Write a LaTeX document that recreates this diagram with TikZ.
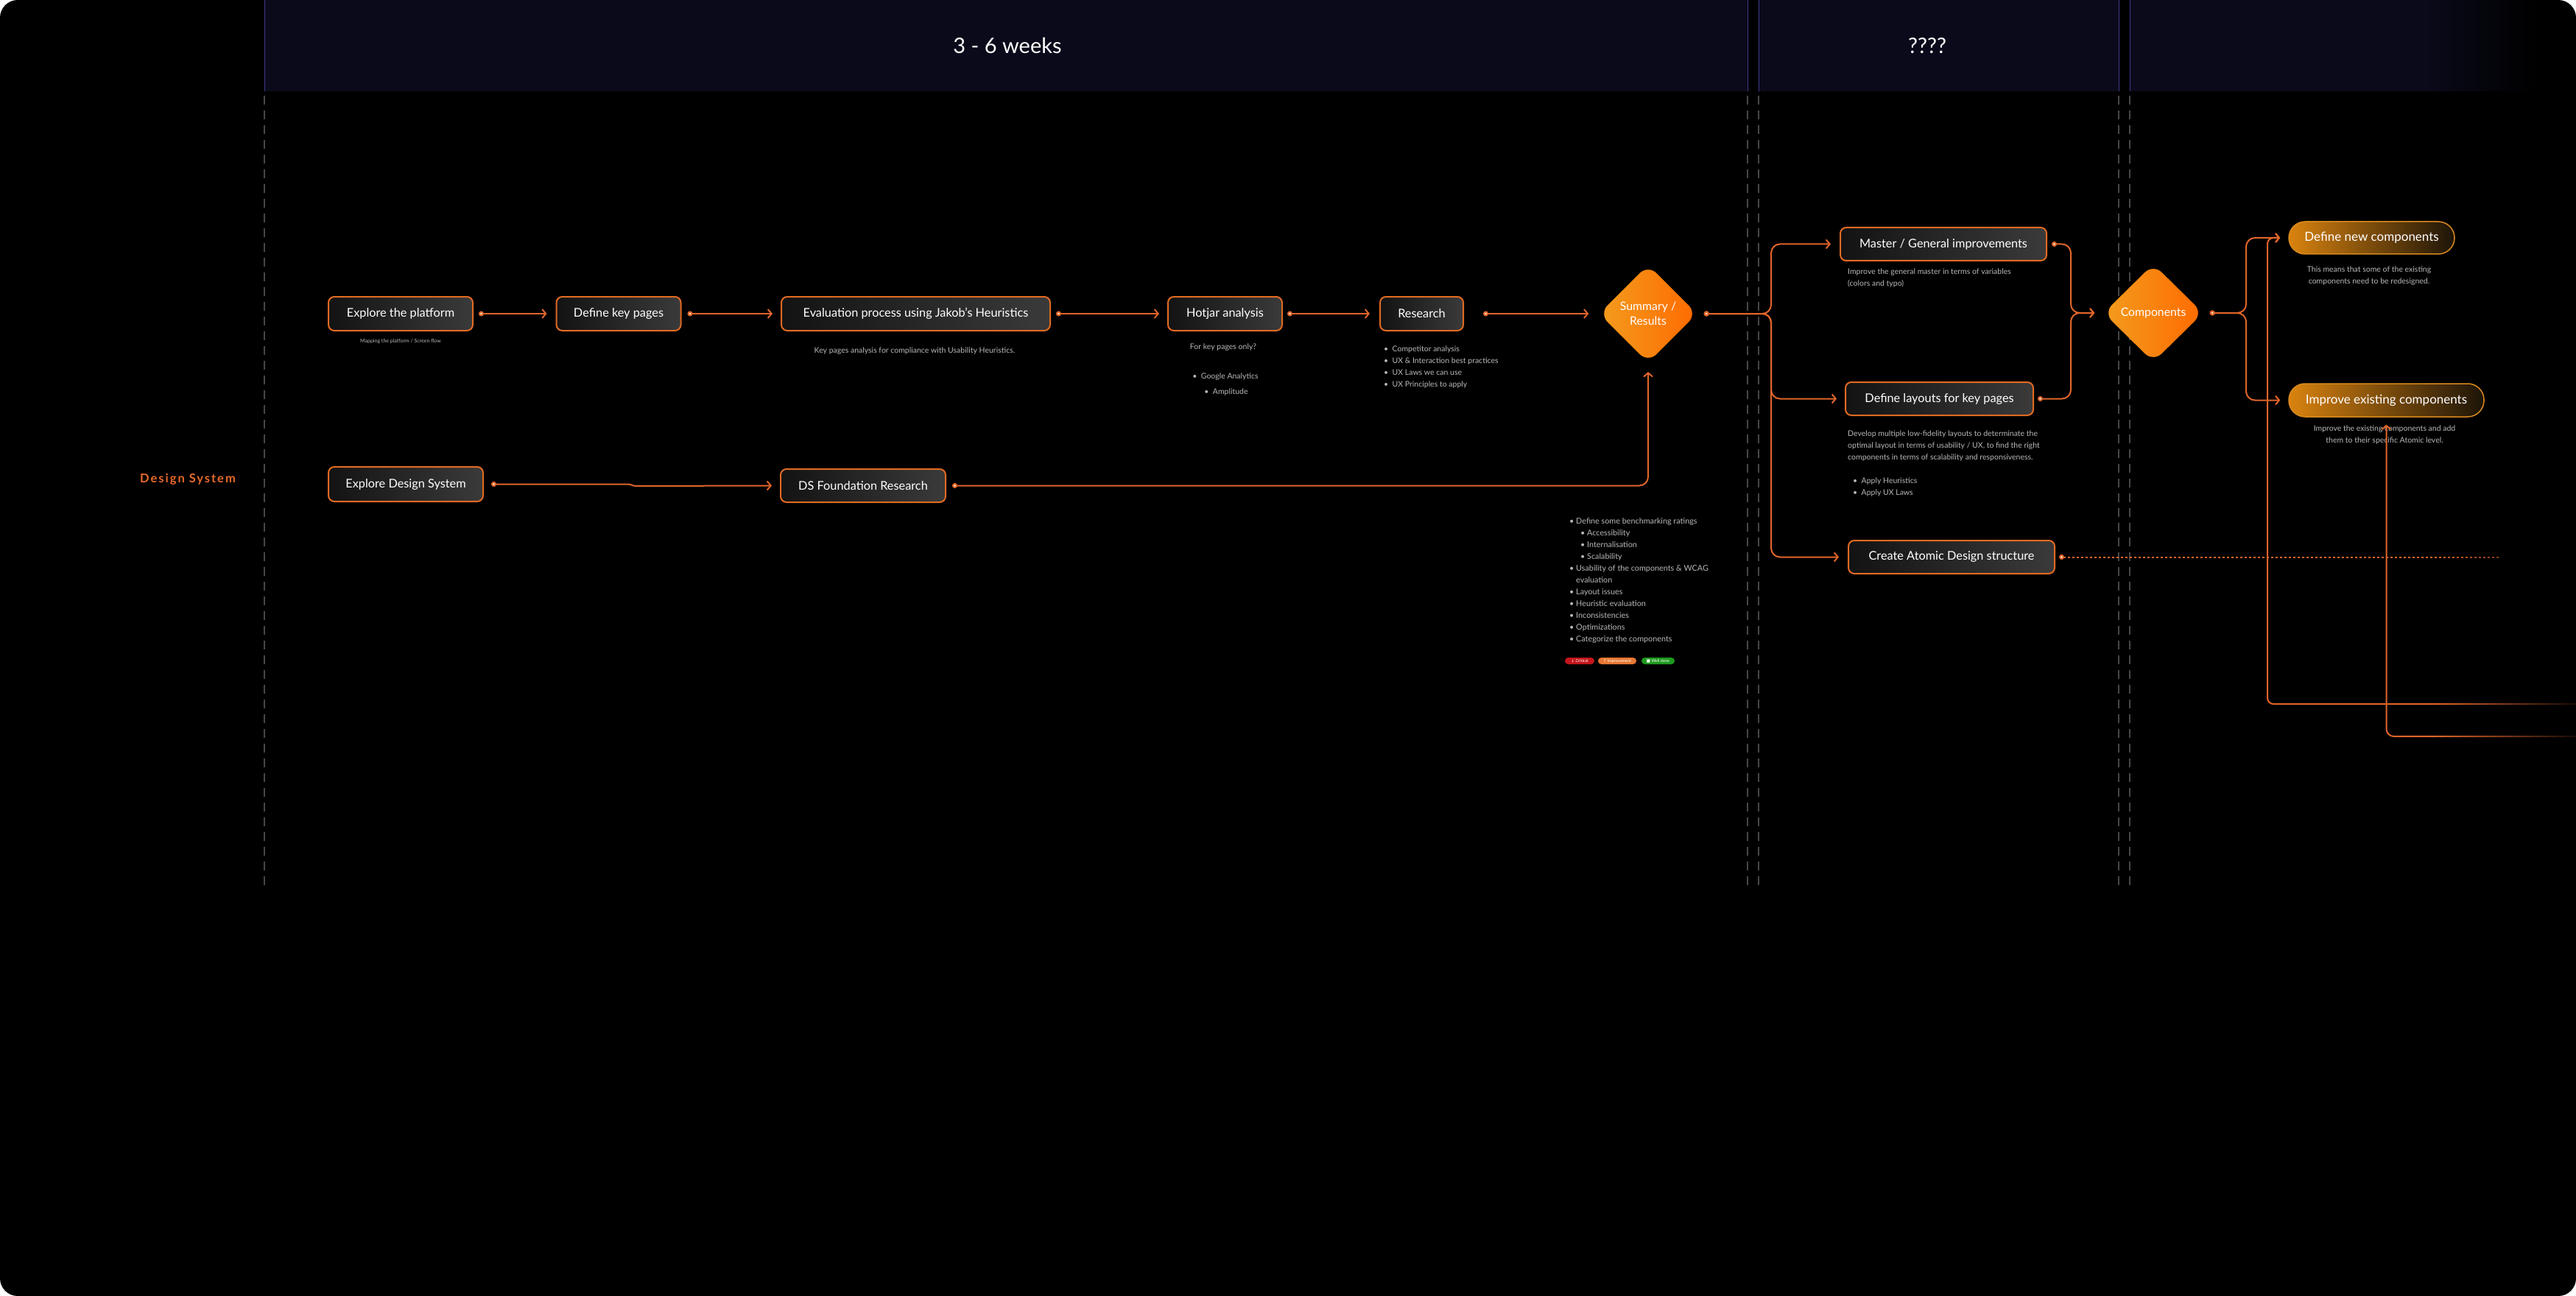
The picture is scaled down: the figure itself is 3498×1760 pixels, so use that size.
\documentclass[tikz,border=0pt]{standalone}
\usepackage{fontspec}
\setmainfont{Lato}
\newfontfamily\symfont{DejaVu Sans}
\newfontfamily\dsfont{Lato}[LetterSpace=12]
\usetikzlibrary{arrows.meta,shapes.geometric}
\definecolor{hdr}{HTML}{0A0A1B}
\definecolor{hdrline}{HTML}{3E3A8C}
\definecolor{dashc}{HTML}{474747}
\definecolor{orng}{HTML}{E0652A}
\definecolor{boxline}{HTML}{E06A22}
\definecolor{boxA}{HTML}{131313}
\definecolor{boxB}{HTML}{3A3A3A}
\definecolor{capc}{HTML}{B8B8B8}
\definecolor{diaA}{HTML}{F39C1E}
\definecolor{diaB}{HTML}{FF6A00}
\definecolor{pillA}{HTML}{D9830F}
\definecolor{pillB}{HTML}{1C1408}
\definecolor{pillline}{HTML}{D98A1E}
\definecolor{dotfill}{HTML}{FFE2C4}
\definecolor{chipred}{HTML}{C4161C}
\definecolor{chiporg}{HTML}{E87832}
\definecolor{chipgrn}{HTML}{1E9A1E}
\definecolor{dslabel}{HTML}{E8692A}
\begin{document}
\begin{tikzpicture}[x=1pt,y=-1pt,
  box/.style={draw=boxline, line width=2pt, rounded corners=8pt, left color=boxA, right color=boxB,
    text=white, font=\fontsize{16.3}{19}\selectfont, minimum height=46pt, inner sep=0pt},
  dia/.style={diamond, rounded corners=16pt, left color=diaA, right color=diaB, text=white,
    font=\fontsize{15.8}{20}\selectfont, minimum width=133pt, minimum height=133pt, inner sep=0pt, align=center},
  pill/.style={draw=pillline, line width=1.5pt, rounded corners=22pt, left color=pillA, right color=pillB,
    text=white, font=\fontsize{17}{20}\selectfont, minimum height=45pt, inner sep=0pt},
  conn/.style={draw=orng, line width=2pt, rounded corners=12pt,
    arrows={Circle[length=7pt,fill=dotfill]-Straight Barb[length=5pt,width=12pt]}},
  conn2/.style={draw=orng, line width=2pt, rounded corners=10pt,
    arrows={-Straight Barb[length=5pt,width=12pt]}},
  capt/.style={text=capc, font=\fontsize{10.5}{16}\selectfont, inner sep=0pt},
  hline/.style={draw=hdrline, line width=1pt},
  dline/.style={draw=dashc, line width=1.2pt, dash pattern=on 12pt off 8pt},
  chip/.style={rounded corners=4.5pt, minimum height=9pt, inner sep=0pt, text=white,
    font=\fontsize{5.5}{6}\selectfont},
  ttl/.style={text=white, font=\fontsize{29}{32}\selectfont}
]
\useasboundingbox (0,0) rectangle (3498,1760);
\fill[white] (0,0) rectangle (3498,1760);
\begin{scope}
\clip[rounded corners=24pt] (0,0) rectangle (3498,1760);
\fill[black] (0,0) rectangle (3498,1760);
% header
\fill[hdr] (359,0) rectangle (2373,124);
\fill[hdr] (2388,0) rectangle (2877,124);
\fill[hdr] (2892,0) rectangle (3290,124);
\shade[left color=hdr, right color=black] (3289,0) rectangle (3450,124);
\draw[hline] (359,0) -- (359,124);
\draw[hline] (2373,0) -- (2373,124);
\draw[hline] (2388,0) -- (2388,124);
\draw[hline] (2877,0) -- (2877,124);
\draw[hline] (2892,0) -- (2892,124);
\draw[dline] (359,130) -- (359,1205);
\draw[dline] (2373,130) -- (2373,1205);
\draw[dline] (2388,130) -- (2388,1205);
\draw[dline] (2877,130) -- (2877,1205);
\draw[dline] (2892,130) -- (2892,1205);
\node[ttl] (t1) at (1368,62) {3 - 6 weeks};
\node[ttl] (t2) at (2617,62) {????};

% lane label
\node[text=dslabel, font=\dsfont\bfseries\fontsize{16.5}{19}\selectfont] (lane) at (255,651) {Design System};

% nodes row 1
\node[box, minimum width=196pt] (exp) at (544,426) {Explore the platform};
\node[box, minimum width=169pt] (dkp) at (840,426) {Define key pages};
\node[box, minimum width=365pt] (eval) at (1243.5,426) {Evaluation process using Jakob's Heuristics};
\node[box, minimum width=155pt] (hot) at (1663.5,426) {Hotjar analysis};
\node[box, minimum width=113pt] (res) at (1930.5,426) {Research};
\node[dia] (sum) at (2238,426) {Summary /\\Results};

% row 2
\node[box, minimum width=210pt, minimum height=47pt] (eds) at (551,657.5) {Explore Design System};
\node[box, minimum width=224pt, minimum height=45pt] (dsf) at (1172,659.5) {DS Foundation Research};

% right part
\node[box, minimum width=280pt, minimum height=45pt] (mgi) at (2639,331.5) {Master / General improvements};
\node[box, minimum width=255pt, minimum height=45pt] (dlk) at (2633.5,541.5) {Define layouts for key pages};
\node[box, minimum width=280pt, minimum height=45pt] (cad) at (2650,756.5) {Create Atomic Design structure};
\node[dia, minimum width=135pt, minimum height=133pt] (comp) at (2924,425) {Components};
\node[pill, minimum width=225pt, minimum height=44pt] (dnc) at (3220.5,323) {Define new components};
\node[pill, minimum width=265pt] (iec) at (3240.5,543.5) {Improve existing components};

% captions
\node[capt, font=\fontsize{7}{8}\selectfont] (c1) at (544,464) {Mapping the platform / Screen flow};
\node[capt] (c2) at (1242,477) {Key pages analysis for compliance with Usability Heuristics.};
\node[capt] (c3) at (1661,472) {For key pages only?};
\node[capt] (c4) at (1664,512) {•\ \ Google Analytics};
\node[capt] (c5) at (1665,533) {•\ \ Amplitude};
\node[capt, anchor=north west, align=left, font=\fontsize{10.5}{15.7}\selectfont] (c6) at (1879,470)
  {•\ \ Competitor analysis\\•\ \ UX \& Interaction best practices\\•\ \ UX Laws we can use\\•\ \ UX Principles to apply};
\node[capt, anchor=north west, align=left] (c7) at (2509,365)
  {Improve the general master in terms of variables\\(colors and typo)};
\node[capt, anchor=north west, align=left] (c8) at (2509,585)
  {Develop multiple low-fidelity layouts to determinate the\\optimal layout in terms of usability / UX, to find the right\\components in terms of scalability and responsiveness.};
\node[capt, anchor=north west, align=left] (c9) at (2516,649)
  {•\ \ Apply Heuristics\\•\ \ Apply UX Laws};
\node[capt, align=center] (c10) at (3217,375) {This means that some of the existing\\components need to be redesigned.};
\node[capt, align=center] (c11) at (3238,591) {Improve the existing components and add\\them to their specific Atomic level.};
\node[capt, anchor=north west, align=left, font=\fontsize{10.8}{16}\selectfont] (c12) at (2131,703)
  {\makebox[9pt][l]{•}Define some benchmarking ratings\\
   \hspace*{15pt}\makebox[9pt][l]{•}Accessibility\\
   \hspace*{15pt}\makebox[9pt][l]{•}Internalisation\\
   \hspace*{15pt}\makebox[9pt][l]{•}Scalability\\
   \makebox[9pt][l]{•}Usability of the components \& WCAG\\
   \hspace*{9pt}evaluation\\
   \makebox[9pt][l]{•}Layout issues\\
   \makebox[9pt][l]{•}Heuristic evaluation\\
   \makebox[9pt][l]{•}Inconsistencies\\
   \makebox[9pt][l]{•}Optimizations\\
   \makebox[9pt][l]{•}Categorize the components};
\node[chip, fill=chipred, minimum width=40pt] (k1) at (2145,897.5) {{\symfont ↓}\ Critical};
\node[chip, fill=chiporg, minimum width=52pt] (k2) at (2196,897.5) {{\symfont ↑}\ Improvement};
\node[chip, fill=chipgrn, minimum width=45pt] (k3) at (2251.5,897.5) {{\symfont ■}\ Well done};

% connectors row 1
\draw[conn] ([xshift=7pt]exp.east) -- ([xshift=-12pt]dkp.west);
\draw[conn] ([xshift=8pt]dkp.east) -- ([xshift=-11pt]eval.west);
\draw[conn] ([xshift=7pt]eval.east) -- ([xshift=-11pt]hot.west);
\draw[conn] ([xshift=6pt]hot.east) -- ([xshift=-13pt]res.west);
\draw[conn] ([xshift=26pt]res.east) -- ([xshift=-14pt]sum.west);
% row 2
\draw[conn, rounded corners=2pt] ([xshift=10pt]eds.east) -- (855,657.5) -- (861,660) -- ([xshift=-11pt]dsf.west);
\draw[conn] ([xshift=8pt]dsf.east) -| ([yshift=-12.5pt]sum.south);
% branches
\draw[conn] ([xshift=9pt]sum.east) -- (2405,426) |- ([xshift=-12pt]mgi.west);
\draw[conn] ([xshift=9pt]sum.east) -- (2405,426) |- ([xshift=-11pt]dlk.west);
\draw[conn] ([xshift=9pt]sum.east) -- (2405,426) |- ([xshift=-12pt]cad.west);
\draw[conn] ([xshift=6pt]mgi.east) -| (2812,425) -- ([xshift=-12pt]comp.west);
\draw[conn] ([xshift=5pt]dlk.east) -| (2812,425) -- ([xshift=-12pt]comp.west);
\draw[conn] ([xshift=9pt]comp.east) -- (3050,425) |- ([xshift=-11pt]dnc.west);
\draw[conn] ([xshift=9pt]comp.east) -- (3050,425) |- ([xshift=-11pt]iec.west);
% incoming from the right
\coordinate (in1) at (3498,956);
\coordinate (in2) at (3498,1000);
\coordinate (dotend) at (3396,756.5);
\draw[conn2, rounded corners=8pt] (in1) -- (3079,956) -- (3079,323) -- ([xshift=-11pt]dnc.west);
\draw[conn2] (in2) -| ([yshift=-10pt]iec.south);
\draw[draw=orng, line width=2pt, dash pattern=on 3pt off 3pt,
  arrows={Circle[length=7pt,fill=dotfill]-}] ([xshift=5pt]cad.east) -- (dotend);
% fade on the right
\foreach \i [evaluate=\i as \op using \i*0.046] in {0,...,19}
  {\fill[black, opacity=\op] (3300+\i*10,740) rectangle (3310+\i*10,1100);}
\end{scope}
\end{tikzpicture}
\end{document}
